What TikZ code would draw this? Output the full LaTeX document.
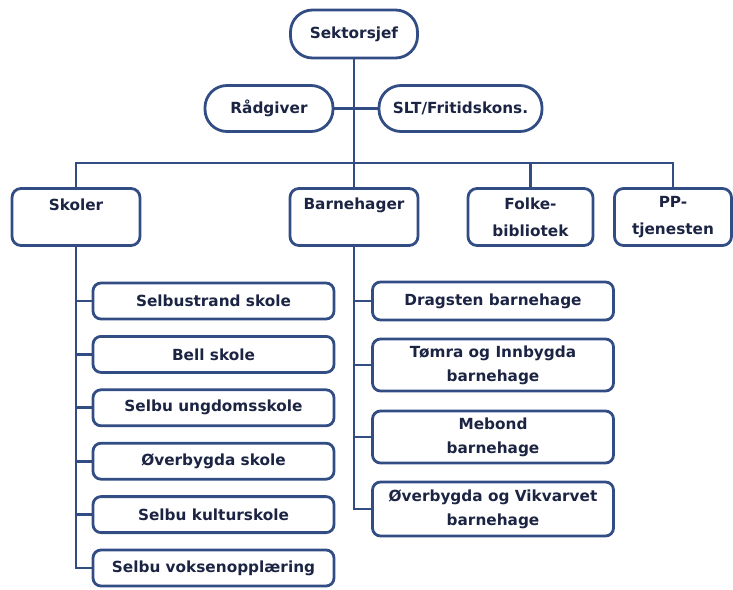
\documentclass[tikz,border=0pt]{standalone}
\usepackage{fontspec}
\setmainfont{DejaVu Sans}
\usetikzlibrary{positioning}
\definecolor{orgline}{RGB}{50,76,132}
\definecolor{orgtext}{RGB}{28,36,68}

\begin{document}
\begin{tikzpicture}[x=1pt, y=-1pt,
		font=\fontsize{15.3}{24}\selectfont\bfseries,
		every node/.style={text=orgtext, inner sep=0pt, align=center},
		pill/.style={draw=orgline, line width=2.8pt, rounded corners=22pt, minimum height=46pt},
		unitbox/.style={draw=orgline, line width=2.8pt, rounded corners=9pt, minimum height=57pt},
		subbox/.style={draw=orgline, line width=2.8pt, rounded corners=8pt, minimum width=241pt},
		wire/.style={draw=orgline, line width=2.8pt}]
			\useasboundingbox (0,0) rectangle (733,589);
			% top level
			\node[pill, minimum width = 127pt, minimum height = 48pt] (sjef) at (354,34) {Sektorsjef};
			\node[pill, minimum width = 128pt] (raad) at (269,108.5) {Rådgiver};
			\node[pill, minimum width = 163pt] (slt) at (460.5,108.5) {SLT/Fritidskons.};
			% sectors
			\node[unitbox, minimum width = 128pt] (skoler) at (76,217) {Skoler\\\phantom{Skoler}};
			\node[unitbox, minimum width = 128pt] (barn) at (354,217) {Barnehager\\\phantom{Barnehager}};
			\node[unitbox, minimum width = 125pt] (folk) at (530.5,217) {Folke-\\[3pt]bibliotek};
			\node[unitbox, minimum width = 117pt] (pp) at (673,217) {PP-\\[3pt]tjenesten};
			% schools
			\node[subbox, minimum height = 36pt] (sel1) at (213.5,301) {Selbustrand skole};
			\node[subbox, minimum height = 36pt, below = 14.6pt of sel1] (sel2) {Bell skole};
			\node[subbox, minimum height = 36pt, below = 14.6pt of sel2] (sel3) {Selbu ungdomsskole};
			\node[subbox, minimum height = 36pt, below = 14.6pt of sel3] (sel4) {Øverbygda skole};
			\node[subbox, minimum height = 36pt, below = 14.6pt of sel4] (sel5) {Selbu kulturskole};
			\node[subbox, minimum height = 36pt, below = 14.6pt of sel5] (sel6) {Selbu voksenopplæring};
			% kindergartens
			\node[subbox, minimum height = 38pt] (bh1) at (493,301) {Dragsten barnehage};
			\node[subbox, minimum height = 52pt, below = 16.2pt of bh1] (bh2) {Tømra og Innbygda\\barnehage};
			\node[subbox, minimum height = 52pt, below = 17.2pt of bh2] (bh3) {Mebond\\barnehage};
			\node[subbox, minimum height = 54pt, below = 16.2pt of bh3] (bh4) {Øverbygda og Vikvarvet\\barnehage};
			% connectors
			\coordinate (bar) at (354,163);
			\draw[wire] (sjef.south) -- (barn.north);
			\draw[wire] (raad.east) -- (slt.west);
			\draw[wire] (skoler.north) |- (bar) -| (pp.north);
			\draw[wire] (folk.north) -- (folk.north |- bar);
			\draw[wire] (skoler.south) |- (sel6.west);
			\foreach \n in {sel1,sel2,sel3,sel4,sel5}
				\draw[wire] (skoler.south |- \n.west) -- (\n.west);
			\draw[wire] (barn.south) |- (bh4.west);
			\foreach \n in {bh1,bh2,bh3}
				\draw[wire] (barn.south |- \n.west) -- (\n.west);
		\end{tikzpicture}
\end{document}
